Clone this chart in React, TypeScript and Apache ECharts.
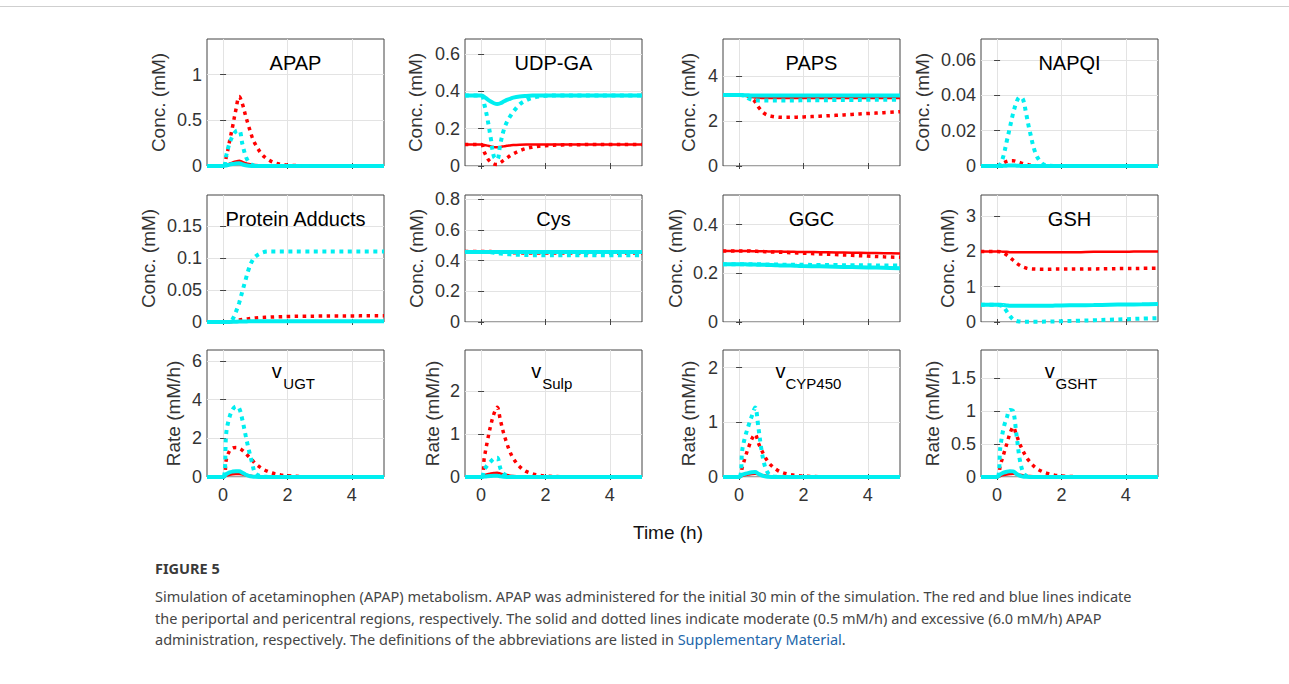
import React, { useEffect, useRef } from "react";
import * as echarts from "echarts";

// ---------- data ----------
const TIME = [-0.5, 0, 0.1, 0.2, 0.3, 0.4, 0.5, 0.6, 0.7, 0.8, 0.9, 1.0, 1.2, 1.4, 1.6, 1.8, 2.0, 2.5, 3.0, 3.5, 4.0, 4.5, 5.0];
const X_TICKS = [0, 2, 4];

const APAP_RED_SOLID = [0, 0, 0.01, 0.025, 0.04, 0.05, 0.058, 0.045, 0.032, 0.022, 0.015, 0.01, 0.004, 0.002, 0.001, 0, 0, 0, 0, 0, 0, 0, 0];
const APAP_RED_DOT = [0, 0, 0.1, 0.27, 0.44, 0.62, 0.76, 0.68, 0.55, 0.43, 0.32, 0.24, 0.13, 0.07, 0.035, 0.018, 0.01, 0.002, 0, 0, 0, 0, 0];
const APAP_CYAN_SOLID = [0, 0, 0.006, 0.015, 0.022, 0.028, 0.03, 0.018, 0.008, 0.003, 0.001, 0, 0, 0, 0, 0, 0, 0, 0, 0, 0, 0, 0];
const APAP_CYAN_DOT = [0, 0, 0.12, 0.25, 0.33, 0.38, 0.39, 0.24, 0.11, 0.04, 0.012, 0.004, 0, 0, 0, 0, 0, 0, 0, 0, 0, 0, 0];

const UDP_RED_SOLID = [0.115, 0.115, 0.113, 0.109, 0.105, 0.101, 0.1, 0.102, 0.105, 0.108, 0.11, 0.112, 0.114, 0.115, 0.115, 0.115, 0.115, 0.115, 0.115, 0.115, 0.115, 0.115, 0.115];
const UDP_RED_DOT = [0.115, 0.115, 0.075, 0.04, 0.02, 0.01, 0.008, 0.018, 0.03, 0.042, 0.055, 0.065, 0.082, 0.094, 0.101, 0.106, 0.109, 0.113, 0.114, 0.115, 0.115, 0.115, 0.115];
const UDP_CYAN_SOLID = [0.378, 0.378, 0.37, 0.357, 0.345, 0.336, 0.332, 0.336, 0.345, 0.354, 0.36, 0.366, 0.372, 0.375, 0.377, 0.378, 0.378, 0.378, 0.378, 0.378, 0.378, 0.378, 0.378];
const UDP_CYAN_DOT = [0.378, 0.378, 0.33, 0.25, 0.15, 0.05, 0.035, 0.12, 0.19, 0.235, 0.265, 0.29, 0.33, 0.352, 0.365, 0.372, 0.376, 0.378, 0.378, 0.378, 0.378, 0.378, 0.378];

const PAPS_RED_SOLID = [3.15, 3.15, 3.14, 3.12, 3.09, 3.06, 3.04, 3.03, 3.02, 3.02, 3.02, 3.02, 3.02, 3.02, 3.02, 3.02, 3.02, 3.02, 3.02, 3.02, 3.02, 3.02, 3.02];
const PAPS_RED_DOT = [3.15, 3.15, 3.14, 3.12, 3.1, 3.0, 2.85, 2.62, 2.45, 2.32, 2.25, 2.21, 2.17, 2.16, 2.16, 2.17, 2.18, 2.21, 2.25, 2.29, 2.33, 2.37, 2.41];
const PAPS_CYAN_SOLID = [3.15, 3.15, 3.15, 3.14, 3.14, 3.13, 3.13, 3.13, 3.13, 3.13, 3.13, 3.13, 3.13, 3.13, 3.13, 3.13, 3.13, 3.13, 3.13, 3.13, 3.13, 3.13, 3.13];
const PAPS_CYAN_DOT = [3.15, 3.15, 3.14, 3.1, 3.0, 2.94, 2.92, 2.91, 2.91, 2.91, 2.91, 2.91, 2.91, 2.91, 2.91, 2.91, 2.92, 2.92, 2.93, 2.93, 2.94, 2.94, 2.95];

const NAPQI_RED_SOLID = [0, 0, 0.0001, 0.0002, 0.0003, 0.0003, 0.0003, 0.0002, 0.0002, 0.0001, 0.0001, 0, 0, 0, 0, 0, 0, 0, 0, 0, 0, 0, 0];
const NAPQI_RED_DOT = [0, 0, 0.0008, 0.0018, 0.0026, 0.003, 0.003, 0.0026, 0.002, 0.0014, 0.001, 0.0006, 0.0002, 0, 0, 0, 0, 0, 0, 0, 0, 0, 0];
const NAPQI_CYAN_SOLID = [0, 0, 0, 0.0001, 0.0002, 0.0003, 0.0003, 0.0002, 0.0001, 0, 0, 0, 0, 0, 0, 0, 0, 0, 0, 0, 0, 0, 0];
const NAPQI_CYAN_DOT = [0, 0, 0.001, 0.006, 0.014, 0.022, 0.03, 0.036, 0.039, 0.038, 0.03, 0.021, 0.007, 0.0015, 0.0002, 0, 0, 0, 0, 0, 0, 0, 0];

const PA_RED_SOLID = [0, 0, 0, 0.0001, 0.0002, 0.0003, 0.0004, 0.0005, 0.0005, 0.0006, 0.0006, 0.0006, 0.0007, 0.0007, 0.0007, 0.0007, 0.0007, 0.0007, 0.0008, 0.0008, 0.0008, 0.0008, 0.0008];
const PA_RED_DOT = [0, 0, 0, 0.0003, 0.001, 0.002, 0.003, 0.0038, 0.0045, 0.0052, 0.0058, 0.0063, 0.007, 0.0075, 0.008, 0.0083, 0.0086, 0.009, 0.0092, 0.0094, 0.0095, 0.0096, 0.0097];
const PA_CYAN_SOLID = [0, 0, 0, 0.0001, 0.0003, 0.0005, 0.0007, 0.0008, 0.0009, 0.001, 0.001, 0.001, 0.001, 0.001, 0.001, 0.001, 0.001, 0.001, 0.001, 0.001, 0.001, 0.001, 0.001];
const PA_CYAN_DOT = [0, 0, 0, 0.0008, 0.005, 0.016, 0.03, 0.048, 0.066, 0.083, 0.095, 0.102, 0.108, 0.11, 0.11, 0.11, 0.11, 0.11, 0.11, 0.11, 0.11, 0.11, 0.11];

const CYS_RED_SOLID = [0.462, 0.462, 0.462, 0.462, 0.462, 0.462, 0.462, 0.462, 0.462, 0.462, 0.462, 0.462, 0.462, 0.462, 0.462, 0.462, 0.462, 0.462, 0.462, 0.462, 0.462, 0.462, 0.462];
const CYS_RED_DOT = [0.46, 0.46, 0.46, 0.46, 0.459, 0.458, 0.457, 0.456, 0.455, 0.454, 0.453, 0.452, 0.451, 0.45, 0.45, 0.45, 0.45, 0.45, 0.45, 0.45, 0.45, 0.45, 0.45];
const CYS_CYAN_SOLID = [0.456, 0.456, 0.456, 0.456, 0.456, 0.456, 0.456, 0.456, 0.456, 0.456, 0.456, 0.456, 0.456, 0.456, 0.456, 0.456, 0.456, 0.456, 0.456, 0.456, 0.456, 0.456, 0.456];
const CYS_CYAN_DOT = [0.456, 0.456, 0.456, 0.455, 0.454, 0.452, 0.45, 0.447, 0.445, 0.443, 0.441, 0.44, 0.438, 0.437, 0.436, 0.436, 0.435, 0.435, 0.435, 0.435, 0.435, 0.435, 0.435];

const GGC_RED_SOLID = [0.292, 0.292, 0.292, 0.292, 0.292, 0.291, 0.291, 0.291, 0.291, 0.291, 0.29, 0.29, 0.29, 0.289, 0.289, 0.288, 0.288, 0.287, 0.286, 0.285, 0.284, 0.283, 0.282];
const GGC_RED_DOT = [0.292, 0.292, 0.292, 0.292, 0.292, 0.291, 0.291, 0.29, 0.29, 0.289, 0.289, 0.288, 0.287, 0.286, 0.285, 0.284, 0.283, 0.28, 0.277, 0.274, 0.271, 0.268, 0.266];
const GGC_CYAN_SOLID = [0.237, 0.237, 0.237, 0.237, 0.236, 0.236, 0.236, 0.235, 0.235, 0.235, 0.234, 0.234, 0.233, 0.232, 0.232, 0.231, 0.23, 0.229, 0.227, 0.226, 0.224, 0.223, 0.221];
const GGC_CYAN_DOT = [0.237, 0.237, 0.237, 0.237, 0.237, 0.237, 0.237, 0.237, 0.237, 0.236, 0.236, 0.236, 0.236, 0.235, 0.235, 0.235, 0.235, 0.234, 0.234, 0.233, 0.233, 0.232, 0.232];

const GSH_RED_SOLID = [2.0, 2.0, 2.0, 1.99, 1.99, 1.98, 1.98, 1.98, 1.98, 1.98, 1.98, 1.98, 1.98, 1.98, 1.98, 1.98, 1.98, 1.98, 1.99, 1.99, 1.99, 2.0, 2.0];
const GSH_RED_DOT = [2.0, 2.0, 1.99, 1.96, 1.9, 1.83, 1.75, 1.67, 1.61, 1.56, 1.53, 1.51, 1.5, 1.495, 1.495, 1.5, 1.5, 1.5, 1.505, 1.51, 1.515, 1.52, 1.525];
const GSH_CYAN_SOLID = [0.49, 0.49, 0.49, 0.48, 0.47, 0.46, 0.46, 0.46, 0.46, 0.46, 0.46, 0.46, 0.46, 0.46, 0.46, 0.465, 0.47, 0.475, 0.48, 0.49, 0.495, 0.5, 0.51];
const GSH_CYAN_DOT = [0.49, 0.49, 0.47, 0.43, 0.3, 0.17, 0.07, 0.03, 0.015, 0.008, 0.006, 0.006, 0.007, 0.01, 0.014, 0.018, 0.023, 0.035, 0.05, 0.065, 0.08, 0.095, 0.11];

const VUGT_RED_SOLID = [0, 0, 0.07, 0.12, 0.145, 0.15, 0.15, 0.13, 0.1, 0.075, 0.055, 0.04, 0.02, 0.01, 0.005, 0.002, 0, 0, 0, 0, 0, 0, 0];
const VUGT_RED_DOT = [0, 0, 0.9, 1.35, 1.5, 1.52, 1.48, 1.38, 1.22, 1.05, 0.88, 0.7, 0.45, 0.28, 0.17, 0.1, 0.06, 0.015, 0.003, 0, 0, 0, 0];
const VUGT_CYAN_SOLID = [0, 0, 0.15, 0.24, 0.28, 0.3, 0.3, 0.22, 0.13, 0.06, 0.025, 0.01, 0, 0, 0, 0, 0, 0, 0, 0, 0, 0, 0];
const VUGT_CYAN_DOT = [0, 0, 2.3, 3.1, 3.5, 3.65, 3.55, 2.95, 2.15, 1.4, 0.75, 0.2, 0.03, 0.005, 0, 0, 0, 0, 0, 0, 0, 0, 0];

const VSULP_RED_SOLID = [0, 0, 0.04, 0.065, 0.08, 0.092, 0.1, 0.08, 0.06, 0.045, 0.032, 0.022, 0.01, 0.005, 0.002, 0, 0, 0, 0, 0, 0, 0, 0];
const VSULP_RED_DOT = [0, 0, 0.45, 0.85, 1.2, 1.47, 1.62, 1.32, 1.02, 0.78, 0.58, 0.43, 0.24, 0.13, 0.075, 0.04, 0.022, 0.005, 0.001, 0, 0, 0, 0];
const VSULP_CYAN_SOLID = [0, 0, 0.012, 0.02, 0.025, 0.028, 0.03, 0.015, 0.006, 0.002, 0.001, 0, 0, 0, 0, 0, 0, 0, 0, 0, 0, 0, 0];
const VSULP_CYAN_DOT = [0, 0, 0.17, 0.28, 0.36, 0.43, 0.45, 0.2, 0.08, 0.03, 0.01, 0.003, 0, 0, 0, 0, 0, 0, 0, 0, 0, 0, 0];

const VCYP_RED_SOLID = [0, 0, 0.02, 0.035, 0.045, 0.053, 0.058, 0.048, 0.038, 0.029, 0.022, 0.016, 0.009, 0.005, 0.003, 0.001, 0, 0, 0, 0, 0, 0, 0];
const VCYP_RED_DOT = [0, 0, 0.18, 0.38, 0.55, 0.7, 0.78, 0.62, 0.49, 0.37, 0.28, 0.21, 0.12, 0.07, 0.045, 0.028, 0.018, 0.005, 0.001, 0, 0, 0, 0];
const VCYP_CYAN_SOLID = [0, 0, 0.04, 0.06, 0.075, 0.085, 0.09, 0.06, 0.03, 0.012, 0.005, 0.002, 0, 0, 0, 0, 0, 0, 0, 0, 0, 0, 0];
const VCYP_CYAN_DOT = [0, 0, 0.5, 0.76, 0.95, 1.12, 1.27, 0.9, 0.48, 0.2, 0.07, 0.02, 0.002, 0, 0, 0, 0, 0, 0, 0, 0, 0, 0];

const VGSHT_RED_SOLID = [0, 0, 0.015, 0.028, 0.038, 0.045, 0.05, 0.042, 0.033, 0.025, 0.019, 0.014, 0.007, 0.004, 0.002, 0, 0, 0, 0, 0, 0, 0, 0];
const VGSHT_RED_DOT = [0, 0, 0.18, 0.34, 0.5, 0.66, 0.76, 0.64, 0.51, 0.4, 0.31, 0.24, 0.14, 0.085, 0.05, 0.028, 0.016, 0.004, 0.001, 0, 0, 0, 0];
const VGSHT_CYAN_SOLID = [0, 0, 0.04, 0.065, 0.08, 0.088, 0.085, 0.05, 0.02, 0.006, 0.002, 0, 0, 0, 0, 0, 0, 0, 0, 0, 0, 0, 0];
const VGSHT_CYAN_DOT = [0, 0, 0.45, 0.74, 0.9, 1.02, 1.0, 0.65, 0.28, 0.08, 0.02, 0.005, 0, 0, 0, 0, 0, 0, 0, 0, 0, 0, 0];

const TITLE_MAIN = ["APAP", "UDP-GA", "PAPS", "NAPQI", "Protein Adducts", "Cys", "GGC", "GSH", "v", "v", "v", "v"];
const TITLE_SUB = ["", "", "", "", "", "", "", "", "UGT", "Sulp", "CYP450", "GSHT"];
const Y_NAMES = ["Conc. (mM)", "Rate (mM/h)"];
const Y_MAX = [1.39, 0.68, 5.64, 0.072, 0.198, 0.828, 0.522, 3.6, 6.57, 2.95, 2.32, 1.93];
const Y_TICKS = [
  [0, 0.5, 1], [0, 0.2, 0.4, 0.6], [0, 2, 4], [0, 0.02, 0.04, 0.06],
  [0, 0.05, 0.1, 0.15], [0, 0.2, 0.4, 0.6, 0.8], [0, 0.2, 0.4], [0, 1, 2, 3],
  [0, 2, 4, 6], [0, 1, 2], [0, 1, 2], [0, 0.5, 1, 1.5],
];

const PANEL_SERIES = [
  [APAP_RED_SOLID, APAP_RED_DOT, APAP_CYAN_SOLID, APAP_CYAN_DOT],
  [UDP_RED_SOLID, UDP_RED_DOT, UDP_CYAN_SOLID, UDP_CYAN_DOT],
  [PAPS_RED_SOLID, PAPS_RED_DOT, PAPS_CYAN_SOLID, PAPS_CYAN_DOT],
  [NAPQI_RED_SOLID, NAPQI_RED_DOT, NAPQI_CYAN_SOLID, NAPQI_CYAN_DOT],
  [PA_RED_SOLID, PA_RED_DOT, PA_CYAN_SOLID, PA_CYAN_DOT],
  [CYS_RED_SOLID, CYS_RED_DOT, CYS_CYAN_SOLID, CYS_CYAN_DOT],
  [GGC_RED_SOLID, GGC_RED_DOT, GGC_CYAN_SOLID, GGC_CYAN_DOT],
  [GSH_RED_SOLID, GSH_RED_DOT, GSH_CYAN_SOLID, GSH_CYAN_DOT],
  [VUGT_RED_SOLID, VUGT_RED_DOT, VUGT_CYAN_SOLID, VUGT_CYAN_DOT],
  [VSULP_RED_SOLID, VSULP_RED_DOT, VSULP_CYAN_SOLID, VSULP_CYAN_DOT],
  [VCYP_RED_SOLID, VCYP_RED_DOT, VCYP_CYAN_SOLID, VCYP_CYAN_DOT],
  [VGSHT_RED_SOLID, VGSHT_RED_DOT, VGSHT_CYAN_SOLID, VGSHT_CYAN_DOT],
];

const X_NAME = "Time (h)";
const CAPTION_HEAD = "FIGURE 5";
const CAPTION_LINES = [
  "Simulation of acetaminophen (APAP) metabolism. APAP was administered for the initial 30 min of the simulation. The red and blue lines indicate",
  "the periportal and pericentral regions, respectively. The solid and dotted lines indicate moderate (0.5 mM/h) and excessive (6.0 mM/h) APAP",
  "administration, respectively. The definitions of the abbreviations are listed in ",
];
const CAPTION_LINK = "Supplementary Material";

// ---------- layout / style ----------
const LEFTS = [207, 465, 723, 981];
const TOPS = [39, 195, 350];
const GW = 177;
const GH = 127;
const NAME_GAP = [39, 40, 25, 49, 49, 39, 38, 24, 24, 23, 25, 39];
const V_OFF = [-23.8, -22.3, -36, -24.7];
const S_OFF = [-12.2, -11.3, -26, -14];
const RED = "#ff0000";
const CYAN = "#00eef0";
const AX = "#444444";
const LBL = "#333333";
const GRID_C = "#e3e3e3";
const FONT = "'Liberation Sans', Arial, Helvetica, sans-serif";
const CAP_FONT = "'Noto Sans', sans-serif";
const CAP_SIZE = 14.5;
const LINE_STYLES = [
  { color: RED, width: 2.5, type: "solid" as any },
  { color: RED, width: 3.5, type: [3.5, 4.5] as any },
  { color: CYAN, width: 4, type: "solid" as any },
  { color: CYAN, width: 4, type: [4, 4.5] as any },
];

function buildOption() {
  const grid: any[] = [];
  const xAxis: any[] = [];
  const yAxis: any[] = [];
  const series: any[] = [];
  const graphic: any[] = [];
  const n = PANEL_SERIES.length;

  for (let i = 0; i < n; i++) {
    const row = Math.floor(i / 4);
    const col = i % 4;
    const left = LEFTS[col];
    const top = TOPS[row];
    grid.push({
      left, top, width: GW, height: GH, show: true,
      borderColor: AX, borderWidth: 1, backgroundColor: "#fff",
      containLabel: false, outerBoundsMode: "none",
    });
    xAxis.push({
      type: "value", gridIndex: i, min: -0.5, max: 5, position: "bottom",
      axisLine: { show: false },
      axisTick: { show: true, inside: true, length: 3, customValues: X_TICKS, lineStyle: { color: AX } },
      axisLabel: { show: row === 2, customValues: X_TICKS, fontSize: 18, color: LBL, margin: 9, fontFamily: FONT },
      splitLine: { show: true, lineStyle: { color: GRID_C, width: 1 } },
    });
    yAxis.push({
      type: "value", gridIndex: i, min: 0, max: Y_MAX[i], position: "left",
      axisLine: { show: false },
      axisTick: { show: true, inside: true, length: 3, customValues: Y_TICKS[i], lineStyle: { color: AX } },
      axisLabel: { customValues: Y_TICKS[i], fontSize: 18, color: LBL, margin: 5, fontFamily: FONT },
      splitLine: { show: true, lineStyle: { color: GRID_C, width: 1 } },
      name: Y_NAMES[row === 2 ? 1 : 0], nameLocation: "middle", nameGap: NAME_GAP[i],
      nameTextStyle: { fontSize: 19, color: LBL, fontFamily: FONT },
    });
    PANEL_SERIES[i].forEach((arr, k) => {
      series.push({
        type: "line", xAxisIndex: i, yAxisIndex: i,
        data: TIME.map((t, j) => [t, arr[j]]),
        symbol: "none", showSymbol: false, smooth: 0.35, clip: false, silent: true,
        lineStyle: { ...LINE_STYLES[k], cap: "butt" },
        z: 3 + k,
      });
    });
    const cx = left + GW / 2;
    if (TITLE_SUB[i]) {
      graphic.push({
        type: "text", x: cx + V_OFF[col], y: top + 20.5, z: 20,
        style: { text: TITLE_MAIN[i], fontSize: 20, fontFamily: FONT, fill: "#000", textAlign: "left", textVerticalAlign: "middle", align: "left", verticalAlign: "middle" },
      });
      graphic.push({
        type: "text", x: cx + S_OFF[col], y: top + 33, z: 20,
        style: { text: TITLE_SUB[i], fontSize: 15, fontFamily: FONT, fill: "#000", textAlign: "left", textVerticalAlign: "middle", align: "left", verticalAlign: "middle" },
      });
    } else {
      graphic.push({
        type: "text", x: cx, y: top + 24, z: 20,
        style: { text: TITLE_MAIN[i], fontSize: 20, fontFamily: FONT, fill: "#000", textAlign: "center", textVerticalAlign: "middle", align: "center", verticalAlign: "middle" },
      });
    }
  }

  // mirrored ticks on top / right (MATLAB box)
  for (let i = 0; i < n; i++) {
    xAxis.push({
      type: "value", gridIndex: i, min: -0.5, max: 5, position: "top",
      axisLine: { show: false },
      axisTick: { show: true, inside: true, length: 3, customValues: X_TICKS, lineStyle: { color: AX } },
      axisLabel: { show: false }, splitLine: { show: false },
    });
    yAxis.push({
      type: "value", gridIndex: i, min: 0, max: Y_MAX[i], position: "right",
      axisLine: { show: false },
      axisTick: { show: true, inside: true, length: 3, customValues: Y_TICKS[i], lineStyle: { color: AX } },
      axisLabel: { show: false }, splitLine: { show: false },
    });
  }

  graphic.push({
    type: "line", shape: { x1: 0, y1: 6.5, x2: 1289, y2: 6.5 }, style: { stroke: "#cfcfcf", lineWidth: 1 },
  });
  graphic.push({
    type: "text", x: 668, y: 532,
    style: { text: X_NAME, fontSize: 19, fontFamily: FONT, fill: "#111", textAlign: "center", textVerticalAlign: "middle", align: "center", verticalAlign: "middle" },
  });
  graphic.push({
    type: "text", x: 155, y: 568,
    style: { text: CAPTION_HEAD, fontSize: CAP_SIZE, fontWeight: "bold", fontFamily: CAP_FONT, fill: "#3a3a3a", textAlign: "left", textVerticalAlign: "middle", align: "left", verticalAlign: "middle" },
  });
  const capY = [596, 617.5, 639];
  CAPTION_LINES.forEach((line, k) => {
    const isLast = k === CAPTION_LINES.length - 1;
    graphic.push({
      type: "text", x: 155, y: capY[k],
      style: {
        text: isLast ? `{a|${line}}{b|${CAPTION_LINK}}{a|.}` : line,
        fontSize: CAP_SIZE, fontFamily: CAP_FONT, fill: "#454545",
        textAlign: "left", textVerticalAlign: "middle", align: "left", verticalAlign: "middle",
        rich: isLast ? {
          a: { fontSize: CAP_SIZE, fontFamily: CAP_FONT, fill: "#454545", color: "#454545" },
          b: { fontSize: CAP_SIZE, fontFamily: CAP_FONT, fill: "#2266aa", color: "#2266aa" },
        } : undefined,
      },
    });
  });

  return {
    animation: false,
    backgroundColor: "#fff",
    textStyle: { fontFamily: FONT },
    grid, xAxis, yAxis, series, graphic,
  };
}

export default function App() {
  const ref = useRef<HTMLDivElement>(null);
  useEffect(() => {
    document.body.style.margin = "0";
    if (!ref.current) return;
    const chart = echarts.init(ref.current, null, { renderer: "svg" });
    chart.setOption(buildOption() as any);
    return () => chart.dispose();
  }, []);
  return <div ref={ref} style={{ width: 1289, height: 684 }} />;
}
